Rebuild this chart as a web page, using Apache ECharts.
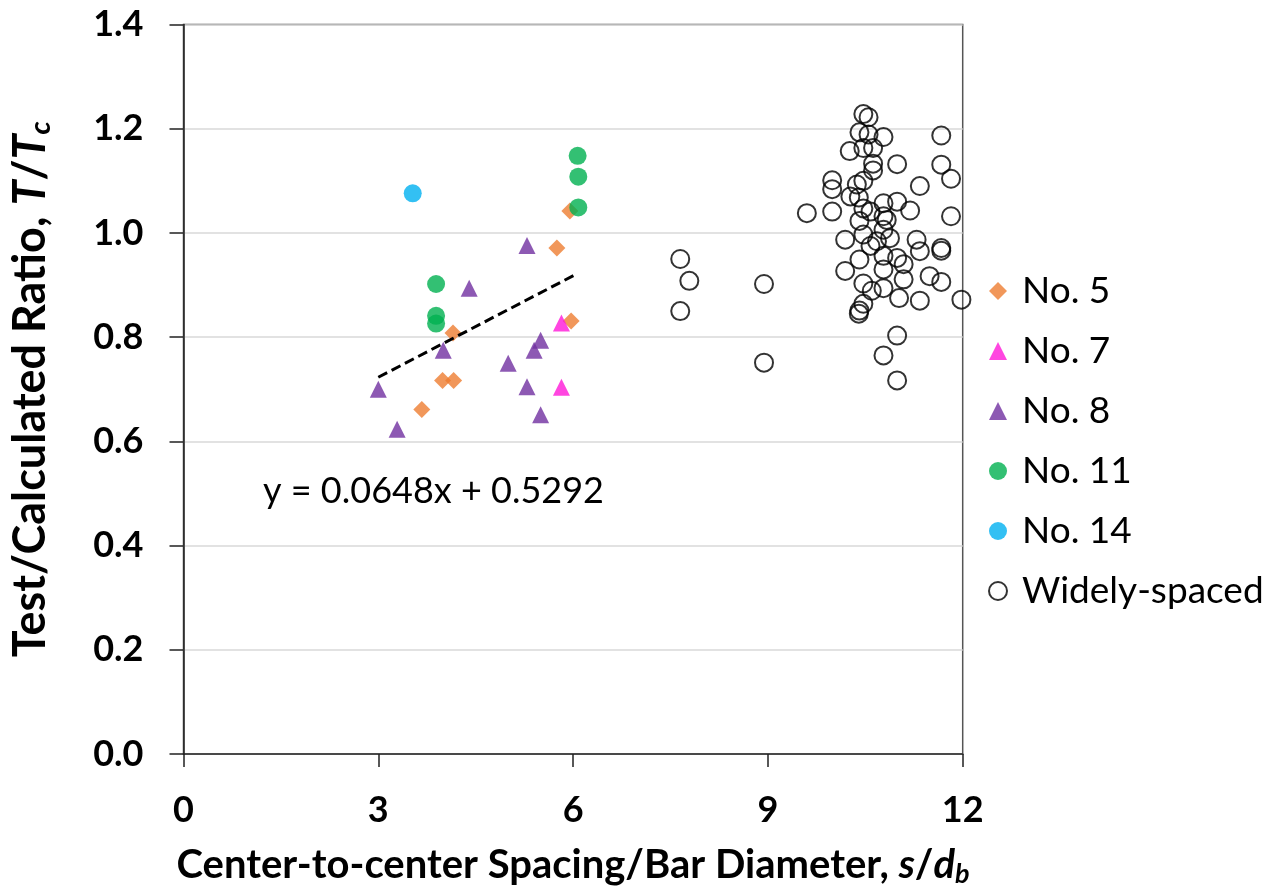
<!DOCTYPE html>
<html>
<head>
<meta charset="utf-8">
<script src="https://cdn.jsdelivr.net/npm/echarts@6/dist/echarts.min.js"></script>
<style>
html,body{margin:0;padding:0;background:#fff;}
#chart{width:1283px;height:893px;}
</style>
</head>
<body>
<div id="chart"></div>
<script>
// ---- data (x = s/db, y = T/Tc) ----
const no5 = [[5.95,1.042],[5.75,0.971],[5.97,0.831],[4.15,0.808],[3.99,0.717],[4.16,0.717],[3.67,0.661]];
const no7 = [[5.82,0.827],[5.82,0.704]];
const no8 = [[5.29,0.976],[4.40,0.894],[4.00,0.775],[5.50,0.794],[5.40,0.775],[5.00,0.750],[5.29,0.705],[3.00,0.700],[5.50,0.651],[3.29,0.623]];
const no11 = [[6.07,1.148],[6.08,1.108],[6.08,1.049],[3.89,0.902],[3.89,0.841],[3.89,0.826]];
const no14 = [[3.53,1.076]];
const widely = [
 [10.47,1.228],[10.55,1.222],[10.41,1.193],[10.55,1.189],[10.78,1.184],[11.67,1.187],[10.26,1.157],[10.47,1.163],
 [10.62,1.163],[10.62,1.133],[10.99,1.132],[11.67,1.131],[10.62,1.120],[11.82,1.104],[9.99,1.101],[9.99,1.084],
 [10.47,1.100],[10.37,1.093],[11.34,1.090],[10.27,1.070],[10.40,1.068],[10.78,1.057],[10.99,1.060],[10.47,1.047],
 [11.19,1.043],[9.60,1.038],[9.99,1.041],[10.58,1.041],[11.82,1.032],[10.78,1.032],[10.83,1.025],[10.41,1.023],
 [10.78,1.006],[10.47,0.997],[10.88,0.990],[10.19,0.987],[11.29,0.987],[10.68,0.984],[10.58,0.975],[11.67,0.971],
 [11.67,0.966],[11.34,0.965],[10.78,0.956],[10.99,0.952],[10.41,0.949],[11.09,0.940],[10.78,0.930],[10.19,0.927],
 [11.09,0.911],[11.49,0.917],[11.67,0.906],[10.47,0.903],[10.60,0.889],[10.78,0.894],[11.02,0.875],[11.34,0.870],
 [11.98,0.872],[10.47,0.864],[10.41,0.851],[10.40,0.845],[10.99,0.803],[10.78,0.765],[10.99,0.717],
 [7.65,0.950],[7.79,0.908],[7.65,0.850],[8.94,0.902],[8.94,0.751]
];
const trend = [[3.00,0.723],[6.05,0.921]];
const seriesNames = ['No. 5','No. 7','No. 8','No. 11','No. 14','Widely-spaced'];
const xTicks = [0,3,6,9,12];
const yTicks = [0,0.2,0.4,0.6,0.8,1.0,1.2,1.4];
const equationText = 'y = 0.0648x + 0.5292';

const FONT = 'Lato';
const chart = echarts.init(document.getElementById('chart'), null, {renderer:'canvas'});
const option = {
  backgroundColor:'#ffffff',
  animation:false,
  grid:{left:180.7, right:320.3, top:24.5, bottom:132, show:true, borderColor:'#555555', borderWidth:1.5, backgroundColor:'transparent'},
  xAxis:{
    type:'value', min:xTicks[0], max:xTicks[xTicks.length-1], interval:3,
    axisLine:{show:true, onZero:false, lineStyle:{color:'#222', width:1.5}},
    axisTick:{show:true, inside:false, length:13, lineStyle:{color:'#222', width:1.5}},
    splitLine:{show:false},
    axisLabel:{margin:38, fontFamily:FONT, fontWeight:'bold', fontSize:36, color:'#000'},
    name:'Center-to-center Spacing/Bar Diameter, {i|s}/{i|d}{sub|b}',
    nameLocation:'middle', nameGap:89,
    nameTextStyle:{fontFamily:FONT, fontWeight:'bold', fontSize:40, color:'#000',
      rich:{i:{fontFamily:FONT, fontWeight:'bold', fontStyle:'italic', fontSize:40, color:'#000'},
            sub:{fontFamily:FONT, fontWeight:'bold', fontStyle:'italic', fontSize:27, color:'#000', padding:[18,0,0,0]}}}
  },
  yAxis:{
    type:'value', min:yTicks[0], max:yTicks[yTicks.length-1], interval:0.2,
    axisLine:{show:true, onZero:false, lineStyle:{color:'#222', width:1.5}},
    axisTick:{show:true, inside:false, length:14, lineStyle:{color:'#222', width:1.5}},
    splitLine:{show:true, lineStyle:{color:'#d9d9d9', width:1.5}},
    axisLabel:{margin:40, fontFamily:FONT, fontWeight:'bold', fontSize:36, color:'#000', formatter:v=>v.toFixed(1)},
    name:'Test/Calculated Ratio, {i|T}/{i|T}{sub|c}',
    nameLocation:'middle', nameGap:128, nameRotate:90,
    nameTextStyle:{fontFamily:FONT, fontWeight:'bold', fontSize:45, color:'#000',
      rich:{i:{fontFamily:FONT, fontWeight:'bold', fontStyle:'italic', fontSize:45, color:'#000'},
            sub:{fontFamily:FONT, fontWeight:'bold', fontStyle:'italic', fontSize:29, color:'#000', padding:[21,0,0,0]}}}
  },
  legend:{
    orient:'vertical', left:983, top:266, itemWidth:18, itemHeight:18, itemGap:20,
    data:seriesNames,
    textStyle:{fontFamily:FONT, fontSize:37, color:'#000', lineHeight:40, padding:[0,0,0,10]}
  },
  graphic:[{type:'text', left:263, top:473, style:{text:equationText, font:'36px Lato', fill:'#000'}}],
  series:[
    {name:'No. 5', type:'scatter', data:no5, symbol:'diamond', symbolSize:17, itemStyle:{color:'#ED7D31'}},
    {name:'No. 7', type:'scatter', data:no7, symbol:'triangle', symbolSize:17, itemStyle:{color:'#FF18D8'}},
    {name:'No. 8', type:'scatter', data:no8, symbol:'triangle', symbolSize:17, itemStyle:{color:'#7030A0'}},
    {name:'No. 11', type:'scatter', data:no11, symbol:'circle', symbolSize:18, itemStyle:{color:'#00B050'}},
    {name:'No. 14', type:'scatter', data:no14, symbol:'circle', symbolSize:18, itemStyle:{color:'#00B0F0'}},
    {name:'Widely-spaced', type:'scatter', data:widely, symbol:'circle', symbolSize:18,
      itemStyle:{color:'rgba(255,255,255,0)', borderColor:'#000', borderWidth:2}},
    {name:'trend', type:'line', data:trend, showSymbol:false, symbol:'none',
      lineStyle:{color:'#000', width:3, type:[10,5]}, z:5}
  ]
};
chart.setOption(option);
</script>
</body>
</html>
